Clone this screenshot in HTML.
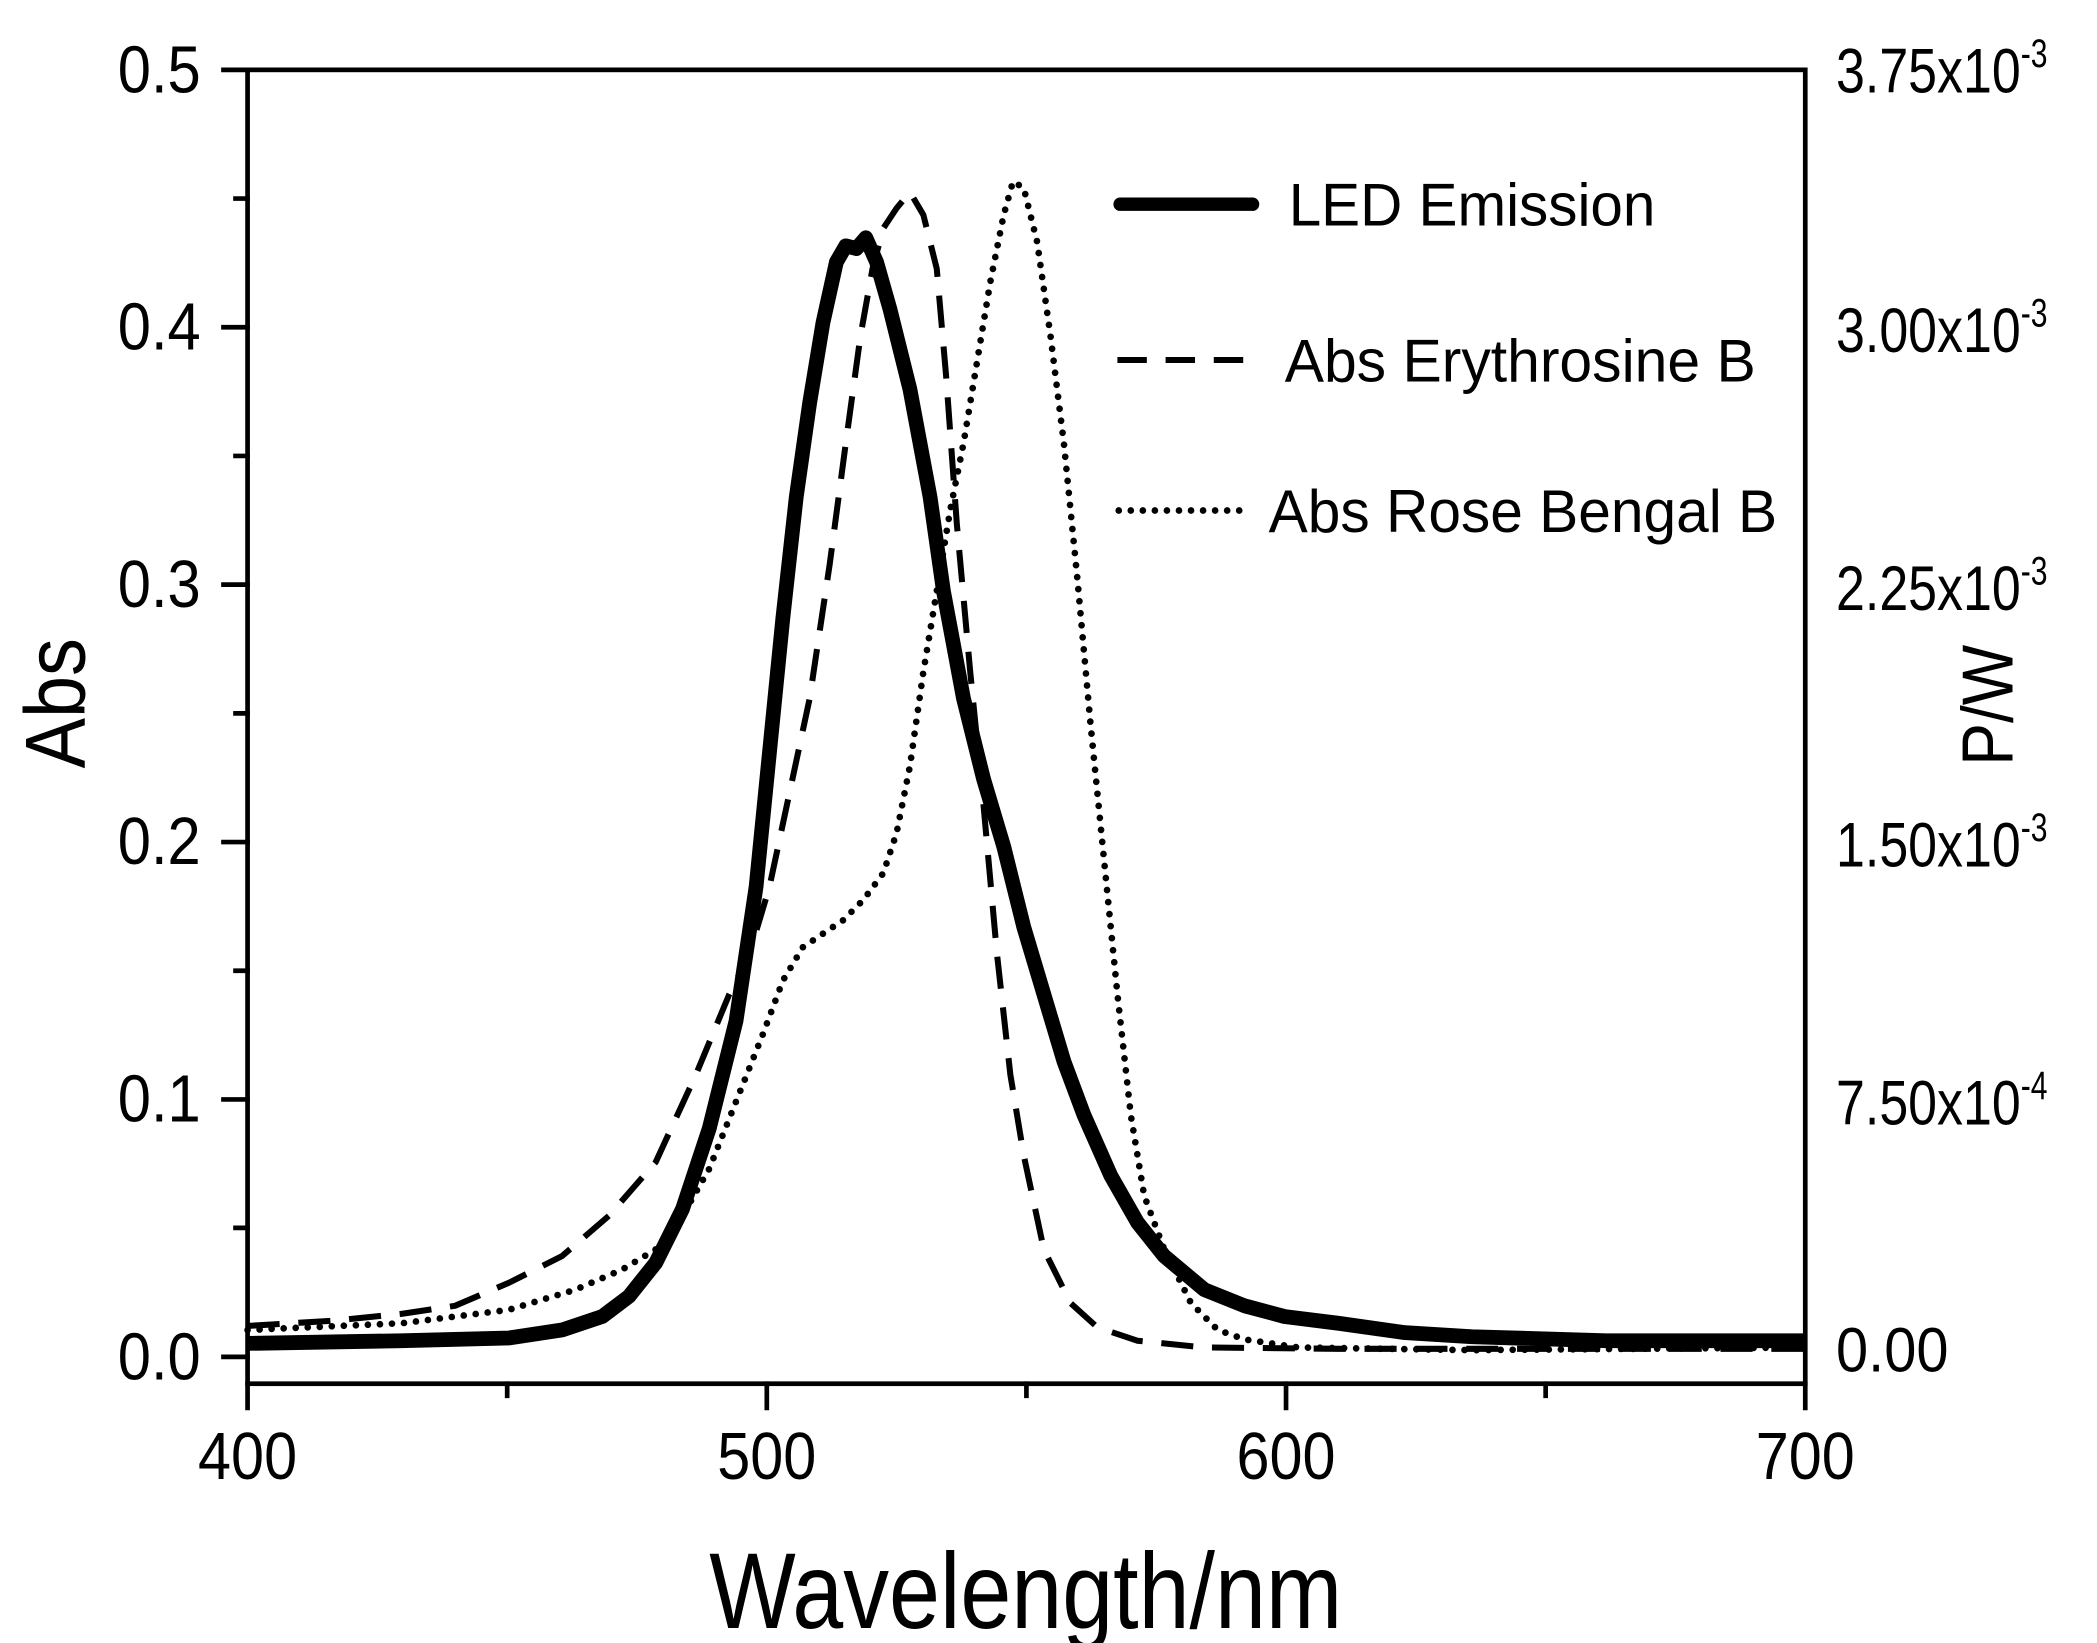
<!DOCTYPE html>
<html><head><meta charset="utf-8"><style>html,body{margin:0;padding:0;background:#fff}svg{display:block}</style></head>
<body>
<svg width="2097" height="1643" viewBox="0 0 1567 1223" preserveAspectRatio="none" xmlns="http://www.w3.org/2000/svg" font-family="Liberation Sans, Arial, sans-serif" fill="#000">
<rect width="1567" height="1223" fill="#fff"/>
<g stroke="#000" stroke-width="3.5" fill="none" stroke-linecap="square">
<rect x="185" y="52" width="1164" height="978"/>
<path d="M185 1010h-18M185 914h-9M185 818.4h-18M185 722.6h-9M185 626.8h-18M185 531h-9M185 435.2h-18M185 339.4h-9M185 243.6h-18M185 147.8h-9M185 52h-18"/>
<path d="M185 1030v18M379 1030v9M573 1030v18M767 1030v9M961 1030v18M1155 1030v9M1349 1030v18"/>
</g>
<g font-size="50" text-anchor="end">
<text x="150" y="1027" textLength="62" lengthAdjust="spacingAndGlyphs">0.0</text>
<text x="150" y="835" textLength="62" lengthAdjust="spacingAndGlyphs">0.1</text>
<text x="150" y="643" textLength="62" lengthAdjust="spacingAndGlyphs">0.2</text>
<text x="150" y="452" textLength="62" lengthAdjust="spacingAndGlyphs">0.3</text>
<text x="150" y="260" textLength="62" lengthAdjust="spacingAndGlyphs">0.4</text>
<text x="150" y="69" textLength="62" lengthAdjust="spacingAndGlyphs">0.5</text>
</g>
<g font-size="50">
<text x="148" y="1101" textLength="74" lengthAdjust="spacingAndGlyphs">400</text>
<text x="536" y="1101" textLength="74" lengthAdjust="spacingAndGlyphs">500</text>
<text x="924" y="1101" textLength="74" lengthAdjust="spacingAndGlyphs">600</text>
<text x="1312" y="1101" textLength="74" lengthAdjust="spacingAndGlyphs">700</text>
</g>
<g font-size="47">
<text x="1372" y="69" textLength="138" lengthAdjust="spacingAndGlyphs">3.75x10</text><text x="1510" y="50" font-size="30" textLength="20" lengthAdjust="spacingAndGlyphs">-3</text>
<text x="1372" y="262" textLength="138" lengthAdjust="spacingAndGlyphs">3.00x10</text><text x="1510" y="243" font-size="30" textLength="20" lengthAdjust="spacingAndGlyphs">-3</text>
<text x="1372" y="454" textLength="138" lengthAdjust="spacingAndGlyphs">2.25x10</text><text x="1510" y="435" font-size="30" textLength="20" lengthAdjust="spacingAndGlyphs">-3</text>
<text x="1372" y="645" textLength="138" lengthAdjust="spacingAndGlyphs">1.50x10</text><text x="1510" y="626" font-size="30" textLength="20" lengthAdjust="spacingAndGlyphs">-3</text>
<text x="1372" y="837" textLength="138" lengthAdjust="spacingAndGlyphs">7.50x10</text><text x="1510" y="818" font-size="30" textLength="20" lengthAdjust="spacingAndGlyphs">-4</text>
<text x="1372" y="1021" textLength="84" lengthAdjust="spacingAndGlyphs">0.00</text>
</g>
<text x="530" y="1212" font-size="80" textLength="473" lengthAdjust="spacingAndGlyphs">Wavelength/nm</text>
<text transform="translate(63,572) rotate(-90)" font-size="64" textLength="97" lengthAdjust="spacingAndGlyphs">Abs</text>
<text transform="translate(1504,570) rotate(-90)" font-size="54" textLength="90" lengthAdjust="spacingAndGlyphs">P/W</text>
<line x1="837" y1="152" x2="936" y2="152" stroke="#000" stroke-width="10" stroke-linecap="round"/>
<text x="963" y="168" font-size="45" textLength="274" lengthAdjust="spacingAndGlyphs">LED Emission</text>
<line x1="835" y1="268" x2="938" y2="268" stroke="#000" stroke-width="4.5" stroke-dasharray="22,14"/>
<text x="960" y="284" font-size="45" textLength="352" lengthAdjust="spacingAndGlyphs">Abs Erythrosine B</text>
<line x1="836" y1="380" x2="935" y2="380" stroke="#000" stroke-width="5" stroke-dasharray="0,9" stroke-linecap="round"/>
<text x="948" y="396" font-size="45" textLength="380" lengthAdjust="spacingAndGlyphs">Abs Rose Bengal B</text>
<g fill="none" stroke="#000" stroke-linejoin="round">
<polyline stroke-width="4.5" stroke-dasharray="24,14" points="185,987 250,983 300,978 340,972 380,955 420,935 455,905 490,865 520,800 545,740 560,710 575,660 590,590 605,520 620,420 632,330 643,250 652,200 660,170 670,155 680,143 690,160 700,200 707,280 715,390 725,500 735,600 745,710 755,800 765,860 780,930 800,970 820,988 850,998 900,1003 1000,1004 1100,1004 1349,1004"/>
<polyline stroke-width="5" stroke-dasharray="0,9" stroke-linecap="round" points="185,990 300,985 380,975 430,960 465,945 490,930 510,905 530,870 550,820 570,770 585,730 600,705 615,695 630,685 645,670 660,650 670,620 680,570 690,500 700,440 710,380 720,330 730,270 740,210 750,160 757,135 765,140 775,180 785,250 795,330 805,430 815,540 825,640 835,740 845,830 855,890 870,930 890,970 910,990 930,997 970,1003 1100,1005 1349,1003"/>
<polyline stroke-width="11" points="185,1000 300,998 380,996 420,990 450,980 470,965 490,940 510,900 530,840 550,760 565,660 575,560 585,460 595,370 605,300 615,240 625,195 632,183 640,185 647,177 655,195 665,230 680,290 695,370 705,440 720,520 735,580 750,630 765,690 780,740 795,790 810,830 830,875 850,910 870,935 900,960 930,972 960,980 1000,985 1050,992 1100,995 1200,998 1349,998"/>
</g>
</svg>
</body></html>
